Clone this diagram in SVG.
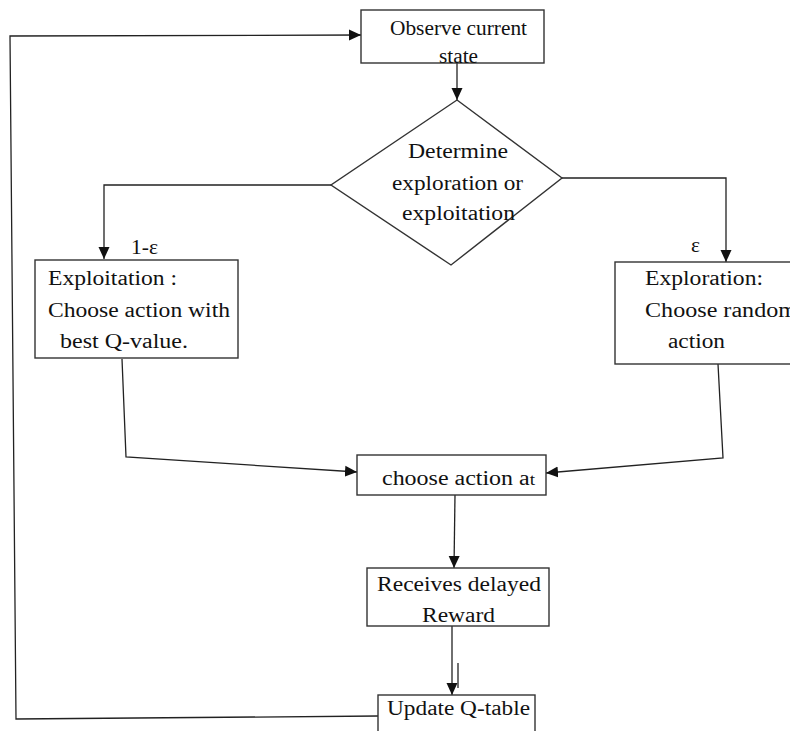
<svg xmlns="http://www.w3.org/2000/svg" width="790" height="731" viewBox="0 0 790 731">
<defs>
<marker id="ah" markerUnits="userSpaceOnUse" markerWidth="12" markerHeight="12" viewBox="0 0 12 12" refX="12" refY="6" orient="auto">
<path d="M0,0.5 L12,6 L0,11.5 Z" fill="#111"/>
</marker>
<style>
.box{fill:#fff;stroke:#333;stroke-width:1.4}
.ln{fill:none;stroke:#222;stroke-width:1.3}
text{font-family:'Liberation Serif','Times New Roman',Times,serif;font-size:20px;fill:#111}
</style>
</defs>
<rect width="790" height="731" fill="#fff"/>
<g id="connectors">
<path class="ln" d="M457,63 L457,100" marker-end="url(#ah)"/>
<path class="ln" d="M331,185 L104,185 L104,259" marker-end="url(#ah)"/>
<path class="ln" d="M562,178 L726,178 L726,262" marker-end="url(#ah)"/>
<path class="ln" d="M122,359 L126,457 L357,472" marker-end="url(#ah)"/>
<path class="ln" d="M718,364 L723,458 L546,473" marker-end="url(#ah)"/>
<path class="ln" d="M455,495 L454,568" marker-end="url(#ah)"/>
<path class="ln" d="M452,626 L452,695" marker-end="url(#ah)"/>
<path class="ln" d="M458,663 L458,688"/>
<path class="ln" d="M378,716 L16,719 L10,36 L361,35" marker-end="url(#ah)"/>
</g>
<g id="observe">
<rect class="box" x="361" y="10" width="183" height="53"/>
<text font-family="Liberation Serif, serif" x="390" y="35" textLength="137" lengthAdjust="spacingAndGlyphs">Observe current</text>
<text font-family="Liberation Serif, serif" x="439" y="63" textLength="39" lengthAdjust="spacingAndGlyphs">state</text>
</g>
<g id="decision">
<polygon class="box" points="457,100 562,178 451,265 331,185"/>
<text font-family="Liberation Serif, serif" x="408" y="158" textLength="100" lengthAdjust="spacingAndGlyphs">Determine</text>
<text font-family="Liberation Serif, serif" x="392" y="190" textLength="131" lengthAdjust="spacingAndGlyphs">exploration or</text>
<text font-family="Liberation Serif, serif" x="402" y="220" textLength="113" lengthAdjust="spacingAndGlyphs">exploitation</text>
</g>
<g id="labels">
<text font-family="Liberation Serif, serif" x="131" y="254" textLength="27" lengthAdjust="spacingAndGlyphs">1-ε</text>
<text font-family="Liberation Serif, serif" x="691" y="252" textLength="9" lengthAdjust="spacingAndGlyphs">ε</text>
</g>
<g id="exploitation">
<rect class="box" x="35" y="260" width="203" height="98"/>
<text font-family="Liberation Serif, serif" x="48" y="285" textLength="129" lengthAdjust="spacingAndGlyphs">Exploitation :</text>
<text font-family="Liberation Serif, serif" x="48" y="317" textLength="182" lengthAdjust="spacingAndGlyphs">Choose action with</text>
<text font-family="Liberation Serif, serif" x="60" y="348" textLength="128" lengthAdjust="spacingAndGlyphs">best Q-value.</text>
</g>
<g id="exploration">
<rect class="box" x="615" y="262" width="200" height="102"/>
<text font-family="Liberation Serif, serif" x="645" y="285" textLength="118" lengthAdjust="spacingAndGlyphs">Exploration:</text>
<text font-family="Liberation Serif, serif" x="645" y="317" textLength="152" lengthAdjust="spacingAndGlyphs">Choose random</text>
<text font-family="Liberation Serif, serif" x="668" y="348" textLength="57" lengthAdjust="spacingAndGlyphs">action</text>
</g>
<g id="choose">
<rect class="box" x="357" y="455" width="189" height="40"/>
<text font-family="Liberation Serif, serif" x="382" y="485" textLength="153" lengthAdjust="spacingAndGlyphs">choose action a<tspan font-size="16">t</tspan></text>
</g>
<g id="reward">
<rect class="box" x="367" y="568" width="182" height="58"/>
<text font-family="Liberation Serif, serif" x="377" y="591" textLength="164" lengthAdjust="spacingAndGlyphs">Receives delayed</text>
<text font-family="Liberation Serif, serif" x="422" y="622" textLength="73" lengthAdjust="spacingAndGlyphs">Reward</text>
</g>
<g id="update">
<rect class="box" x="378" y="695" width="157" height="60"/>
<text font-family="Liberation Serif, serif" x="387" y="715" textLength="143" lengthAdjust="spacingAndGlyphs">Update Q-table</text>
</g>
</svg>
